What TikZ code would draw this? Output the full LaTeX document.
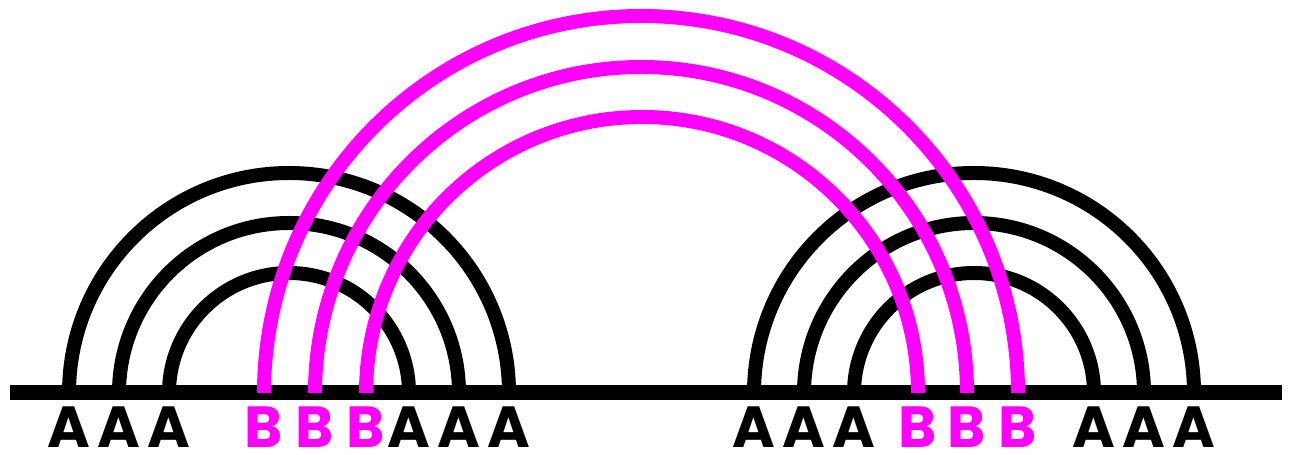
\documentclass[tikz,border=0pt]{standalone}
\usepackage{fontspec}
\setmainfont{Poppins}
\definecolor{arcpink}{RGB}{255,0,255}
\begin{document}
\begin{tikzpicture}[x=0.02cm,y=0.02cm,
  blackarc/.style={line width=0.28cm},
  pinkarc/.style={line width=0.28cm,draw=arcpink},
  lbl/.style={font=\bfseries\fontsize{33}{33}\selectfont,anchor=base,inner sep=0pt}]
\useasboundingbox (0,0) rectangle (1290,455);
% feet on the line and their letters
\foreach \x/\t/\col [count=\i] in {69/A/black,119/A/black,169/A/black,264/B/arcpink,315/B/arcpink,366/B/arcpink,409/A/black,459/A/black,509/A/black,754/A/black,804/A/black,854/A/black,918/B/arcpink,967/B/arcpink,1018/B/arcpink,1094/A/black,1144/A/black,1194/A/black}{
  \coordinate (p\i) at (\x,62);
  \node[lbl,text=\col] (t\i) at (\x,7) {\t};
}
% black arcs
\draw[blackarc] (p1) arc[start angle=180,end angle=0,radius=220];
\draw[blackarc] (p2) arc[start angle=180,end angle=0,radius=170];
\draw[blackarc] (p3) arc[start angle=180,end angle=0,radius=120];
\draw[blackarc] (p10) arc[start angle=180,end angle=0,radius=220];
\draw[blackarc] (p11) arc[start angle=180,end angle=0,radius=170];
\draw[blackarc] (p12) arc[start angle=180,end angle=0,radius=120];
% the line
\coordinate (lineL) at (10,62);
\coordinate (lineR) at (1282,62);
\draw[line width=0.3cm] (lineL) -- (lineR);
% pink arcs on top
\draw[pinkarc] (p4) arc[start angle=180,end angle=0,radius=377];
\draw[pinkarc] (p5) arc[start angle=180,end angle=0,radius=326];
\draw[pinkarc] (p6) arc[start angle=180,end angle=0,radius=276];
\end{tikzpicture}
\end{document}
